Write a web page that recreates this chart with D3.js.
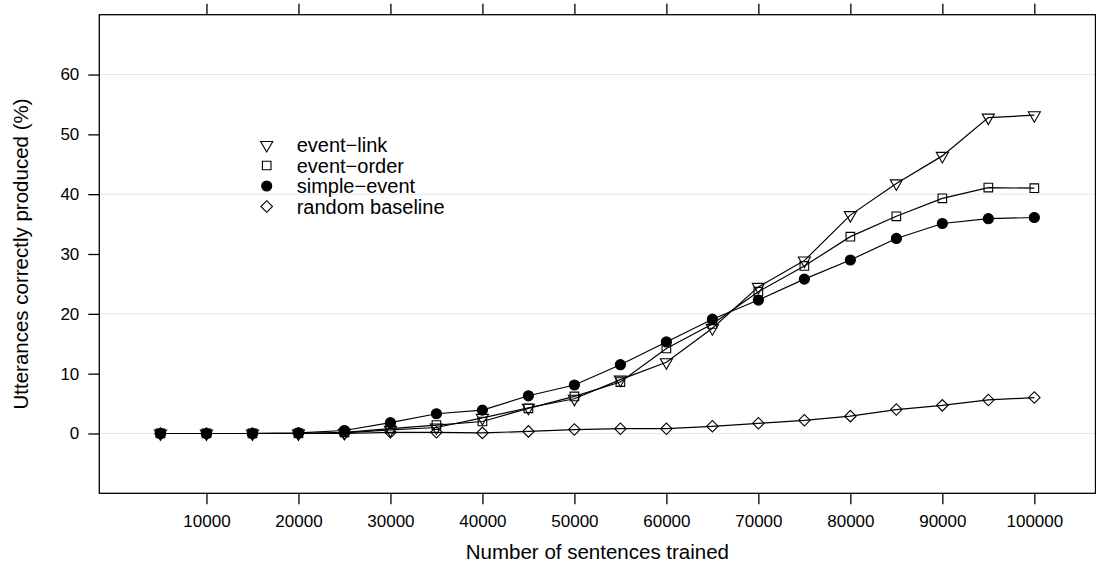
<!DOCTYPE html>
<html lang="en">
<head>
    <meta charset="UTF-8">
    <title>Utterances correctly produced</title>
    <script src="https://d3js.org/d3.v7.min.js"></script>
    <style>
        body {
            margin: 0;
            background-color: white;
        }
        svg text {
            font-family: "Liberation Sans", Arial, Helvetica, sans-serif;
            fill: #000;
        }
    </style>
</head>
<body>
    <svg id="chart" width="1096" height="568"></svg>
    <script>
        // values
        const sentences = [5000, 10000, 15000, 20000, 25000, 30000, 35000, 40000, 45000, 50000,
                           55000, 60000, 65000, 70000, 75000, 80000, 85000, 90000, 95000, 100000];
        const eventLink = [0, 0, 0, 0, 0.1, 0.6, 1.0, 2.6, 4.3, 5.8,
                           9.0, 11.9, 17.6, 24.5, 28.9, 36.5, 41.8, 46.4, 52.8, 53.2];
        const eventOrder = [0, 0, 0, 0, 0.2, 0.8, 1.4, 2.0, 4.2, 6.2,
                            8.6, 14.2, 18.3, 23.7, 28.0, 32.9, 36.3, 39.3, 41.1, 41.0];
        const simpleEvent = [0, 0, 0, 0.1, 0.5, 1.8, 3.3, 3.9, 6.3, 8.1,
                             11.5, 15.3, 19.1, 22.3, 25.8, 29.0, 32.6, 35.1, 35.9, 36.1];
        const randomBaseline = [0, 0, 0, 0, 0, 0.2, 0.2, 0.1, 0.35, 0.65,
                                0.8, 0.8, 1.2, 1.7, 2.2, 2.9, 4.0, 4.7, 5.6, 6.0];

        const seriesNames = ["event\u2212link", "event\u2212order", "simple\u2212event", "random baseline"];
        const xTicks = [10000, 20000, 30000, 40000, 50000, 60000, 70000, 80000, 90000, 100000];
        const yTicks = [0, 10, 20, 30, 40, 50, 60];
        const gridValues = [0, 20, 40, 60];

        const series = [
            { name: seriesNames[0], values: eventLink, symbol: "triDown" },
            { name: seriesNames[1], values: eventOrder, symbol: "square" },
            { name: seriesNames[2], values: simpleEvent, symbol: "circle" },
            { name: seriesNames[3], values: randomBaseline, symbol: "diamond" }
        ];

        const svg = d3.select("#chart");
        const panelLeft = 99.3, panelRight = 1095.5, panelTop = 14.7, panelBottom = 493.3;

        const x = d3.scaleLinear().domain([-1650, 106650]).range([panelLeft, panelRight]);
        const y = d3.scaleLinear().domain([-10, 70]).range([panelBottom, panelTop]);

        // light grid lines
        svg.append("g").selectAll("line")
            .data(gridValues)
            .join("line")
            .attr("x1", panelLeft).attr("x2", panelRight)
            .attr("y1", d => y(d)).attr("y2", d => y(d))
            .attr("stroke", "#e6e6e6")
            .attr("stroke-width", 1);

        // axes
        const fontTick = "17px";
        const xAxisB = svg.append("g")
            .attr("transform", `translate(0,${panelBottom})`)
            .call(d3.axisBottom(x).tickValues(xTicks).tickFormat(d3.format("d"))
                .tickSizeInner(11).tickSizeOuter(0).tickPadding(11));
        const xAxisT = svg.append("g")
            .attr("transform", `translate(0,${panelTop})`)
            .call(d3.axisTop(x).tickValues(xTicks).tickFormat("")
                .tickSizeInner(11).tickSizeOuter(0));
        const yAxisL = svg.append("g")
            .attr("transform", `translate(${panelLeft},0)`)
            .call(d3.axisLeft(y).tickValues(yTicks)
                .tickSizeInner(11).tickSizeOuter(0).tickPadding(9));

        [xAxisB, xAxisT, yAxisL].forEach(g => {
            g.select(".domain").remove();
            g.selectAll(".tick line").attr("stroke", "#000").attr("stroke-width", 1.3);
            g.selectAll(".tick text")
                .style("font-family", '"Liberation Sans", Arial, Helvetica, sans-serif')
                .style("font-size", fontTick)
                .attr("fill", "#000");
        });

        // panel box
        svg.append("rect")
            .attr("x", panelLeft).attr("y", panelTop)
            .attr("width", panelRight - panelLeft).attr("height", panelBottom - panelTop)
            .attr("fill", "none")
            .attr("stroke", "#000")
            .attr("stroke-width", 1.3);

        // symbols
        function symbolPath(kind) {
            if (kind === "triDown") return d3.symbol(d3.symbolTriangle, 64)();
            if (kind === "square") return d3.symbol(d3.symbolSquare, 74)();
            if (kind === "circle") return d3.symbol(d3.symbolCircle, 80)();
            return d3.symbol(d3.symbolSquare, 66)();
        }
        function symbolRotate(kind) {
            if (kind === "triDown") return 180;
            if (kind === "diamond") return 45;
            return 0;
        }

        const line = d3.line()
            .x(d => x(d[0]))
            .y(d => y(d[1]));

        series.forEach(s => {
            const pts = sentences.map((v, i) => [v, s.values[i]]);
            const g = svg.append("g");
            g.append("path")
                .datum(pts)
                .attr("d", line)
                .attr("fill", "none")
                .attr("stroke", "#000")
                .attr("stroke-width", 1.2);
            g.selectAll("path.pt")
                .data(pts)
                .join("path")
                .attr("class", "pt")
                .attr("d", symbolPath(s.symbol))
                .attr("transform", d => `translate(${x(d[0])},${y(d[1])}) rotate(${symbolRotate(s.symbol)})`)
                .attr("fill", s.symbol === "circle" ? "#000" : "none")
                .attr("stroke", "#000")
                .attr("stroke-width", 1.1);
        });

        // legend
        const legend = svg.append("g");
        const legendRows = [145, 165.5, 186, 206.5];
        series.forEach((s, i) => {
            legend.append("path")
                .attr("d", symbolPath(s.symbol))
                .attr("transform", `translate(266.7,${legendRows[i]}) rotate(${symbolRotate(s.symbol)})`)
                .attr("fill", s.symbol === "circle" ? "#000" : "none")
                .attr("stroke", "#000")
                .attr("stroke-width", 1.1);
            legend.append("text")
                .attr("x", 296.7)
                .attr("y", legendRows[i])
                .attr("dy", "0.36em")
                .style("font-size", "20px")
                .text(s.name);
        });

        // axis titles
        svg.append("text")
            .attr("x", (panelLeft + panelRight) / 2)
            .attr("y", 559)
            .attr("text-anchor", "middle")
            .style("font-size", "20.5px")
            .text("Number of sentences trained");

        svg.append("text")
            .attr("transform", `translate(28,${(panelTop + panelBottom) / 2}) rotate(-90)`)
            .attr("text-anchor", "middle")
            .style("font-size", "20.5px")
            .text("Utterances correctly produced (%)");
    </script>
</body>
</html>
